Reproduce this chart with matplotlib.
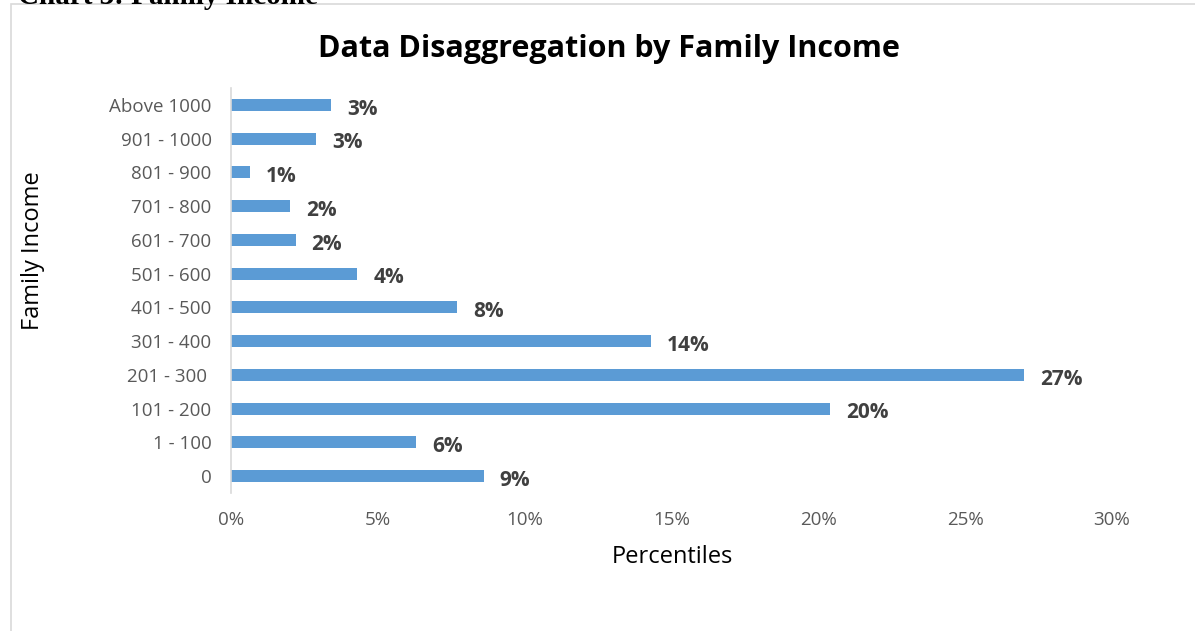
import matplotlib
matplotlib.use("Agg")
import matplotlib.pyplot as plt
from matplotlib.patches import Rectangle

# Income brackets (bottom to top) and share of respondents in percent
categories = ["0", "1 - 100", "101 - 200", "201 - 300 ", "301 - 400", "401 - 500",
              "501 - 600", "601 - 700", "701 - 800", "801 - 900", "901 - 1000", "Above 1000"]
shares = [8.6, 6.3, 20.4, 27.0, 14.3, 7.7, 4.3, 2.2, 2.0, 0.65, 2.9, 3.4]
value_labels = ["9%", "6%", "20%", "27%", "14%", "8%", "4%", "2%", "2%", "1%", "3%", "3%"]
x_ticks = [0, 5, 10, 15, 20, 25, 30]
x_tick_labels = ["0%", "5%", "10%", "15%", "20%", "25%", "30%"]

W, H = 1195, 631
fig = plt.figure(figsize=(W / 100, H / 100), dpi=100)
fig.patch.set_facecolor("white")

# chart area frame
fig.patches.append(Rectangle((11 / W, -0.1), 1.2, 1.1 - 4 / H, transform=fig.transFigure,
                             fill=False, edgecolor="#d9d9d9", linewidth=1.2, zorder=0))

# caption above the chart, running off the top edge of the page
fig.text(18 / W, 1 - 4 / H, "Chart 3: Family Income", family="Liberation Serif",
         fontweight="bold", fontsize=21, color="black", ha="left", va="baseline")

ax = fig.add_axes([231 / W, 1 - 493 / H, (1112 - 231) / W, (493 - 88) / H])
ypos = list(range(len(categories)))
ax.barh(ypos, shares, height=0.36, color="#5B9BD5", zorder=2)

for y, v, lab in zip(ypos, shares, value_labels):
    ax.annotate(lab, xy=(v, y), xytext=(11.5, -3), textcoords="offset points",
                ha="left", va="center", fontsize=15, fontweight="bold",
                color="#404040", family="Open Sans")

ax.set_xlim(0, 30)
ax.set_ylim(-0.5, len(categories) - 0.5)
ax.set_yticks(ypos)
ax.set_yticklabels(categories)
ax.set_xticks(x_ticks)
ax.set_xticklabels(x_tick_labels)
ax.tick_params(axis="both", length=0, labelsize=13.5, labelcolor="#595959")
ax.tick_params(axis="x", pad=13)
ax.tick_params(axis="y", pad=14)
for lab in ax.get_xticklabels() + ax.get_yticklabels():
    lab.set_family("Open Sans")

for side in ["top", "right", "bottom"]:
    ax.spines[side].set_visible(False)
ax.spines["left"].set_color("#d9d9d9")
ax.spines["left"].set_linewidth(1.2)

fig.text(672 / W, 1 - 557 / H, "Percentiles", family="Open Sans", fontsize=17,
         color="black", ha="center", va="center")
fig.text(33 / W, 1 - 251 / H, "Family Income", family="Open Sans", fontsize=17,
         color="black", ha="center", va="center", rotation=90)
fig.text(609 / W, 1 - 49 / H, "Data Disaggregation by Family Income", family="Open Sans",
         fontweight="bold", fontsize=22, color="black", ha="center", va="center")

fig.savefig("out.png", dpi=100, facecolor="white")
